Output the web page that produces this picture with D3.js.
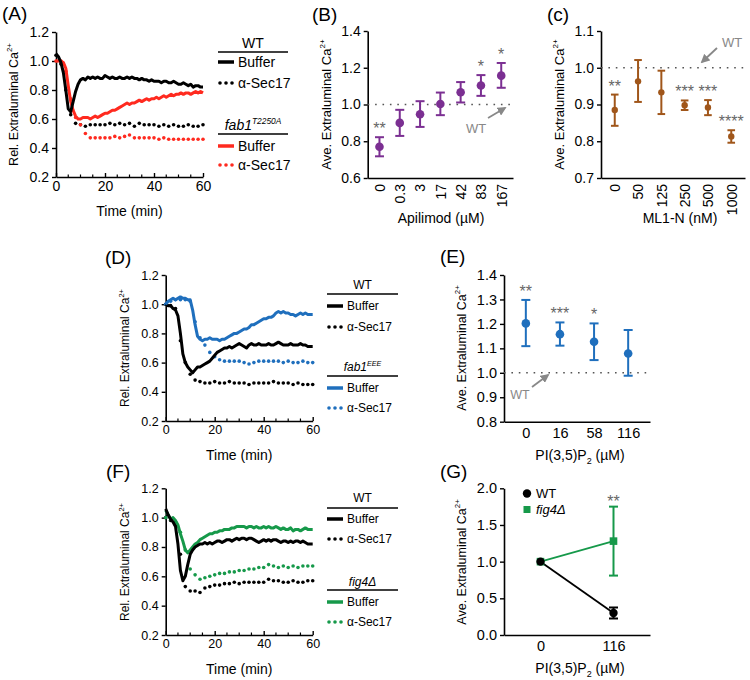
<!DOCTYPE html>
<html>
<head>
<script src="https://d3js.org/d3.v7.min.js"></script>
<style>
  body { margin: 0; background: #fff; }
</style>
</head>
<body>
<script>
// ---------- data ----------
var tMin = d3.range(0, 61);      // buffer traces, 1 min sampling
var tDot = d3.range(0, 61, 2);   // alpha-Sec17 traces, 2 min sampling
var timeXTicks = [0, 20, 40, 60];
var timeXMinor = [5, 10, 15, 25, 30, 35, 45, 50, 55];
var timeYTicks = [0.2, 0.4, 0.6, 0.8, 1.0, 1.2];

// (A) WT vs fab1 T2250A
var aWtBuffer = [1.05,1.03,0.99,0.92,0.80,0.67,0.65,0.72,0.79,0.84,0.87,0.88,0.87,0.89,0.88,0.89,0.88,0.89,0.88,0.88,
  0.90,0.89,0.88,0.89,0.88,0.88,0.89,0.88,0.88,0.89,0.88,0.89,0.88,0.88,0.87,0.88,0.87,0.87,0.86,0.87,
  0.86,0.86,0.86,0.85,0.86,0.86,0.85,0.85,0.86,0.85,0.84,0.84,0.85,0.84,0.83,0.84,0.82,0.83,0.83,0.82,0.82];
var aMutBuffer = [1.00,1.00,1.00,0.99,0.95,0.83,0.72,0.66,0.62,0.60,0.60,0.61,0.61,0.61,0.60,0.61,0.62,0.61,0.62,0.63,
  0.64,0.64,0.65,0.66,0.66,0.67,0.68,0.69,0.70,0.71,0.70,0.71,0.71,0.72,0.73,0.72,0.73,0.74,0.73,0.74,
  0.74,0.75,0.74,0.75,0.76,0.75,0.76,0.77,0.76,0.77,0.77,0.78,0.77,0.78,0.78,0.77,0.78,0.79,0.78,0.79,0.78];
var aWtSec17 = [1.04,0.98,0.80,0.63,0.57,0.56,0.55,0.56,0.56,0.56,0.56,0.57,0.56,0.57,0.56,0.57,
  0.55,0.57,0.56,0.56,0.56,0.55,0.56,0.55,0.56,0.55,0.55,0.56,0.55,0.55,0.56];
var aMutSec17 = [1.00,1.00,0.93,0.74,0.61,0.56,0.50,0.47,0.47,0.47,0.47,0.47,0.48,0.47,0.48,0.49,
  0.47,0.47,0.47,0.47,0.47,0.46,0.47,0.46,0.46,0.46,0.46,0.46,0.46,0.46,0.46];

// (D) WT vs fab1 EEE
var dWtBuffer = [1.00,0.99,0.99,0.97,0.96,0.92,0.80,0.66,0.60,0.57,0.55,0.53,0.55,0.57,0.57,0.58,0.59,0.60,0.61,0.63,
  0.65,0.67,0.68,0.69,0.70,0.70,0.71,0.70,0.71,0.72,0.73,0.72,0.71,0.70,0.72,0.73,0.72,0.72,0.73,0.72,
  0.72,0.72,0.73,0.72,0.72,0.73,0.74,0.73,0.72,0.72,0.72,0.73,0.72,0.72,0.72,0.73,0.72,0.72,0.71,0.71,0.71];
var dMutBuffer = [1.00,1.02,1.03,1.04,1.03,1.04,1.05,1.04,1.04,1.03,1.03,0.96,0.86,0.78,0.76,0.75,0.76,0.76,0.77,0.76,
  0.76,0.76,0.75,0.76,0.76,0.77,0.78,0.79,0.80,0.80,0.81,0.82,0.83,0.83,0.84,0.86,0.86,0.87,0.88,0.89,
  0.90,0.90,0.91,0.91,0.92,0.94,0.95,0.94,0.95,0.94,0.94,0.93,0.93,0.92,0.93,0.94,0.93,0.94,0.93,0.93,0.93];
var dWtSec17 = [1.00,0.99,0.97,0.75,0.60,0.52,0.48,0.47,0.46,0.46,0.47,0.46,0.46,0.47,0.46,0.46,
  0.46,0.45,0.46,0.46,0.46,0.46,0.47,0.46,0.46,0.46,0.45,0.46,0.45,0.45,0.45];
var dMutSec17 = [1.00,1.02,1.03,1.03,1.03,1.02,0.88,0.77,0.72,0.67,0.64,0.62,0.61,0.61,0.61,0.61,
  0.60,0.59,0.60,0.61,0.61,0.61,0.61,0.61,0.60,0.61,0.60,0.60,0.61,0.60,0.60];

// (F) WT vs fig4 delta
var fWtBuffer = [1.06,1.02,0.99,0.97,0.94,0.82,0.64,0.57,0.60,0.68,0.75,0.78,0.80,0.81,0.82,0.82,0.83,0.82,0.83,0.82,
  0.83,0.84,0.84,0.83,0.84,0.85,0.85,0.84,0.85,0.86,0.85,0.86,0.86,0.85,0.86,0.86,0.85,0.84,0.83,0.84,
  0.85,0.84,0.85,0.84,0.85,0.85,0.84,0.83,0.84,0.84,0.83,0.84,0.83,0.84,0.84,0.83,0.84,0.83,0.82,0.82,0.82];
var fMutBuffer = [1.05,1.02,0.99,1.00,0.98,0.95,0.89,0.84,0.78,0.76,0.78,0.80,0.82,0.83,0.85,0.86,0.87,0.88,0.89,0.89,
  0.90,0.90,0.91,0.91,0.92,0.92,0.92,0.93,0.93,0.94,0.94,0.94,0.94,0.93,0.94,0.94,0.93,0.94,0.93,0.93,
  0.94,0.93,0.94,0.93,0.93,0.94,0.93,0.92,0.93,0.92,0.92,0.93,0.91,0.92,0.92,0.91,0.92,0.93,0.92,0.92,0.92];
var fWtSec17 = [1.00,0.98,0.95,0.75,0.53,0.50,0.50,0.49,0.52,0.53,0.54,0.54,0.55,0.55,0.56,0.55,
  0.56,0.56,0.56,0.56,0.56,0.58,0.57,0.57,0.56,0.56,0.57,0.56,0.56,0.57,0.57];
var fMutSec17 = [1.00,0.99,0.97,0.90,0.78,0.65,0.61,0.58,0.59,0.60,0.61,0.62,0.62,0.63,0.63,0.64,
  0.64,0.65,0.65,0.66,0.66,0.68,0.67,0.66,0.67,0.66,0.67,0.66,0.67,0.67,0.67];

// (B) apilimod
var bDose = ["0", "0.3", "3", "17", "42", "83", "167"];
var bMean = [0.77, 0.90, 0.947, 1.003, 1.067, 1.103, 1.157];
var bLow  = [0.718, 0.829, 0.878, 0.942, 1.011, 1.047, 1.091];
var bHigh = [0.822, 0.971, 1.018, 1.065, 1.122, 1.16, 1.226];
var bStars = ["**", "", "", "", "", "*", "*"];

// (c) ML1-N
var cDose = ["0", "50", "125", "250", "500", "1000"];
var cMean = [0.885, 0.963, 0.933, 0.898, 0.892, 0.813];
var cLow  = [0.842, 0.907, 0.874, 0.885, 0.871, 0.796];
var cHigh = [0.927, 1.021, 0.992, 0.911, 0.912, 0.83];
var cStars = ["**", "", "", "***", "***", "****"];

// (E) PI(3,5)P2 on fab1 EEE
var eDose = ["0", "16", "58", "116"];
var eMean = [1.202, 1.158, 1.127, 1.079];
var eLow  = [1.109, 1.111, 1.052, 0.988];
var eHigh = [1.298, 1.206, 1.202, 1.175];
var eStars = ["**", "***", "*", ""];

// (G) PI(3,5)P2, WT vs fig4 delta
var gDose = ["0", "116"];
var gWtMean = [1.0, 0.30];
var gWtErr = [0, 0.075];
var gMutMean = [1.0, 1.28];
var gMutErr = [0, 0.47];
var gStars = ["", "**"];

// ---------- drawing ----------
var FONT = "'Liberation Sans', Arial, Helvetica, sans-serif";
var red = "#ff2a1f", blue = "#1f6fbd", green = "#16994a",
    purple = "#7b2f92", brown = "#a0561a", grey = "#888", starGrey = "#666";

var svg = d3.select("body").append("svg")
    .attr("width", 750).attr("height", 680)
    .attr("font-family", FONT);

function styleAxis(sel, fs) {
  sel.attr("font-family", FONT).attr("font-size", fs);
  sel.select(".domain").attr("stroke", "#000").attr("stroke-width", 1.6);
  sel.selectAll(".tick line").attr("stroke", "#000").attr("stroke-width", 1.4);
  sel.selectAll(".tick text").attr("fill", "#000");
}

function panelLabel(x, y, txt) {
  svg.append("text").attr("x", x).attr("y", y).attr("font-size", 19).text(txt);
}

function yTitle(x, yc, word, fs) {
  var t = svg.append("text")
      .attr("transform", "translate(" + x + "," + yc + ") rotate(-90)")
      .attr("text-anchor", "middle").attr("font-size", fs);
  t.append("tspan").text(word + " Extraluminal Ca");
  t.append("tspan").attr("dy", -fs * 0.45).attr("font-size", fs * 0.62).text("2+");
}

function piTitle(xc, y) {
  var t = svg.append("text").attr("x", xc).attr("y", y)
      .attr("text-anchor", "middle").attr("font-size", 14);
  t.append("tspan").text("PI(3,5)P");
  t.append("tspan").attr("dy", 4).attr("font-size", 9).text("2");
  t.append("tspan").attr("dy", -4).text(" (\u00b5M)");
}

function wtArrow(tx, ty, x1, y1, x2, y2, fs) {
  svg.append("text").attr("x", tx).attr("y", ty).attr("text-anchor", "middle")
      .attr("dominant-baseline", "central").attr("font-size", fs).attr("fill", grey).text("WT");
  svg.append("line").attr("x1", x1).attr("y1", y1).attr("x2", x2).attr("y2", y2)
      .attr("stroke", grey).attr("stroke-width", 1.8).attr("marker-end", "url(#arr)");
}

svg.append("defs").append("marker").attr("id", "arr")
    .attr("viewBox", "0 0 10 10").attr("refX", 8).attr("refY", 5)
    .attr("markerWidth", 5).attr("markerHeight", 5).attr("orient", "auto")
  .append("path").attr("d", "M0,0 L10,5 L0,10 z").attr("fill", grey);

// time-course panel
function timePanel(p) {
  var g = svg.append("g");
  var x = d3.scaleLinear().domain([0, 60]).range([p.left, p.left + 147]);
  var y = d3.scaleLinear().domain([0.2, 1.2]).range([p.bottom, p.top]);

  var ya = g.append("g").attr("transform", "translate(" + p.left + ",0)")
      .call(d3.axisLeft(y).tickValues(timeYTicks).tickFormat(d3.format(".1f"))
        .tickSizeOuter(0).tickSizeInner(4).tickPadding(3));
  styleAxis(ya, p.fs);
  var xa = g.append("g").attr("transform", "translate(0," + p.bottom + ")")
      .call(d3.axisBottom(x).tickValues(timeXTicks)
        .tickSizeOuter(0).tickSizeInner(-4).tickPadding(4));
  styleAxis(xa, p.fs);
  g.selectAll(".minor").data(timeXMinor).enter().append("line")
      .attr("x1", function(d) { return x(d); }).attr("x2", function(d) { return x(d); })
      .attr("y1", p.bottom).attr("y2", p.bottom - 2.5)
      .attr("stroke", "#000").attr("stroke-width", 1.2);

  p.series.forEach(function(s) {
    if (s.dotted) {
      g.append("g").selectAll("circle").data(s.vals).enter().append("circle")
          .attr("cx", function(d, i) { return x(tDot[i]); })
          .attr("cy", function(d) { return y(d); })
          .attr("r", 1.8).attr("fill", s.color);
    } else {
      g.append("path").datum(s.vals)
          .attr("d", d3.line().x(function(d, i) { return x(tMin[i]); }).y(function(d) { return y(d); }))
          .attr("fill", "none").attr("stroke", s.color).attr("stroke-width", 3)
          .attr("stroke-linejoin", "round");
    }
  });

  svg.append("text").attr("x", p.left + 73.5).attr("y", p.bottom + 39)
      .attr("text-anchor", "middle").attr("font-size", 14).text("Time (min)");
}

// legend with two groups
function legend(x0, x1, fs, groups) {
  groups.forEach(function(gr) {
    var t = svg.append("text").attr("x", (x0 + x1) / 2).attr("y", gr.titleY)
        .attr("text-anchor", "middle").attr("font-size", fs);
    t.append("tspan").attr("font-style", gr.italic ? "italic" : "normal").text(gr.title);
    if (gr.sup) {
      t.append("tspan").attr("dy", -fs * 0.45).attr("font-size", fs * 0.6)
          .attr("font-style", "italic").text(gr.sup);
    }
    svg.append("line").attr("x1", x0).attr("x2", x1).attr("y1", gr.lineY).attr("y2", gr.lineY)
        .attr("stroke", "#000").attr("stroke-width", 1.4);
    gr.rows.forEach(function(r) {
      if (r.dotted) {
        [2, 8, 14].forEach(function(dx) {
          svg.append("circle").attr("cx", x0 + dx).attr("cy", r.y).attr("r", 1.8).attr("fill", r.color);
        });
      } else {
        svg.append("line").attr("x1", x0).attr("x2", x0 + 16).attr("y1", r.y).attr("y2", r.y)
            .attr("stroke", r.color).attr("stroke-width", 3.5);
      }
      svg.append("text").attr("x", x0 + 20).attr("y", r.y).attr("dominant-baseline", "central")
          .attr("font-size", fs).text(r.label);
    });
  });
}

// dose panel with mean +/- error
function dosePanel(p) {
  var g = svg.append("g");
  var x = d3.scalePoint().domain(p.cats).range([p.left, p.right]).padding(p.pad);
  var y = d3.scaleLinear().domain(p.ydom).range([p.bottom, p.top]);

  var ya = g.append("g").attr("transform", "translate(" + p.left + ",0)")
      .call(d3.axisLeft(y).tickValues(p.yticks).tickFormat(d3.format(".1f"))
        .tickSizeOuter(0).tickSizeInner(4).tickPadding(3));
  styleAxis(ya, p.fs);
  var xa = g.append("g").attr("transform", "translate(0," + p.bottom + ")")
      .call(d3.axisBottom(x).tickSize(0).tickPadding(6));
  styleAxis(xa, p.fs);
  if (p.rotate) {
    xa.selectAll(".tick text").attr("transform", "rotate(-90)")
        .attr("text-anchor", "end").attr("x", -6).attr("y", 0).attr("dy", "0.35em");
  }

  g.append("line").attr("x1", p.left).attr("x2", p.right)
      .attr("y1", y(1)).attr("y2", y(1))
      .attr("stroke", "#555").attr("stroke-width", 1.6).attr("stroke-dasharray", "1.6,5.8");

  var cap = p.cap;
  p.cats.forEach(function(c, i) {
    var cx = x(c);
    g.append("line").attr("x1", cx).attr("x2", cx).attr("y1", y(p.low[i])).attr("y2", y(p.high[i]))
        .attr("stroke", p.color).attr("stroke-width", 2);
    [p.low[i], p.high[i]].forEach(function(v) {
      g.append("line").attr("x1", cx - cap).attr("x2", cx + cap).attr("y1", y(v)).attr("y2", y(v))
          .attr("stroke", p.color).attr("stroke-width", 2);
    });
    g.append("circle").attr("cx", cx).attr("cy", y(p.mean[i])).attr("r", p.r).attr("fill", p.color);
    if (p.stars[i]) {
      g.append("text").attr("x", cx).attr("y", y(p.high[i]) - 3)
          .attr("text-anchor", "middle").attr("font-size", 16).attr("fill", starGrey)
          .text(p.stars[i]);
    }
  });
}

// ---------- panel A ----------
panelLabel(2, 20, "(A)");
timePanel({ left: 56, top: 32, bottom: 177, fs: 14, series: [
  { vals: aWtSec17, color: "#000", dotted: true },
  { vals: aMutSec17, color: red, dotted: true },
  { vals: aMutBuffer, color: red },
  { vals: aWtBuffer, color: "#000" }
]});
yTitle(18, 104.5, "Rel.", 12.5);
legend(218, 288, 14, [
  { title: "WT", titleY: 48, lineY: 52, rows: [
    { y: 62, color: "#000", label: "Buffer" },
    { y: 83, color: "#000", dotted: true, label: "\u03b1-Sec17" }]},
  { title: "fab1", italic: true, sup: "T2250A", titleY: 130, lineY: 134, rows: [
    { y: 146, color: red, label: "Buffer" },
    { y: 165, color: red, dotted: true, label: "\u03b1-Sec17" }]}
]);

// ---------- panel B ----------
panelLabel(312, 21, "(B)");
dosePanel({ left: 367.7, right: 513, top: 31, bottom: 178, pad: 0.58,
  cats: bDose, mean: bMean, low: bLow, high: bHigh, stars: bStars,
  ydom: [0.6, 1.4], yticks: [0.6, 0.8, 1.0, 1.2, 1.4], color: purple,
  r: 4.3, cap: 4.5, fs: 14, rotate: true });
yTitle(331, 104.5, "Ave.", 13);
svg.append("text").attr("x", 441).attr("y", 223).attr("text-anchor", "middle")
    .attr("font-size", 14).text("Apilimod (\u00b5M)");
wtArrow(476, 128, 488, 118, 505, 108, 13);

// ---------- panel C ----------
panelLabel(547, 21, "(c)");
dosePanel({ left: 601, right: 745, top: 31, bottom: 178, pad: 0.59,
  cats: cDose, mean: cMean, low: cLow, high: cHigh, stars: cStars,
  ydom: [0.7, 1.1], yticks: [0.7, 0.8, 0.9, 1.0, 1.1], color: brown,
  r: 3.2, cap: 3.8, fs: 14, rotate: true });
yTitle(564, 104.5, "Ave.", 13);
svg.append("text").attr("x", 680).attr("y", 223).attr("text-anchor", "middle")
    .attr("font-size", 14).text("ML1-N (nM)");
wtArrow(732, 42, 717, 48, 702, 62, 13);

// ---------- panel D ----------
panelLabel(105, 264, "(D)");
timePanel({ left: 165.7, top: 275, bottom: 421, fs: 12.5, series: [
  { vals: dWtSec17, color: "#000", dotted: true },
  { vals: dMutSec17, color: blue, dotted: true },
  { vals: dWtBuffer, color: "#000" },
  { vals: dMutBuffer, color: blue }
]});
yTitle(129, 348, "Rel.", 12);
legend(327, 398, 12, [
  { title: "WT", titleY: 289, lineY: 294, rows: [
    { y: 306, color: "#000", label: "Buffer" },
    { y: 327, color: "#000", dotted: true, label: "\u03b1-Sec17" }]},
  { title: "fab1", italic: true, sup: "EEE", titleY: 371, lineY: 376, rows: [
    { y: 388, color: blue, label: "Buffer" },
    { y: 408, color: blue, dotted: true, label: "\u03b1-Sec17" }]}
]);

// ---------- panel E ----------
panelLabel(440, 263, "(E)");
dosePanel({ left: 504, right: 650, top: 275, bottom: 421.7, pad: 0.64,
  cats: eDose, mean: eMean, low: eLow, high: eHigh, stars: eStars,
  ydom: [0.8, 1.4], yticks: [0.8, 0.9, 1.0, 1.1, 1.2, 1.3, 1.4], color: blue,
  r: 4.3, cap: 4.5, fs: 14.5, rotate: false });
yTitle(466, 348, "Ave.", 12.5);
piTitle(580, 460);
wtArrow(520, 395, 532, 387, 548, 375, 12.5);

// ---------- panel F ----------
panelLabel(106, 478, "(F)");
timePanel({ left: 165.7, top: 488.3, bottom: 635, fs: 12.5, series: [
  { vals: fWtSec17, color: "#000", dotted: true },
  { vals: fMutSec17, color: green, dotted: true },
  { vals: fMutBuffer, color: green },
  { vals: fWtBuffer, color: "#000" }
]});
yTitle(129, 562, "Rel.", 12);
legend(327, 398, 12, [
  { title: "WT", titleY: 502, lineY: 508, rows: [
    { y: 519, color: "#000", label: "Buffer" },
    { y: 539, color: "#000", dotted: true, label: "\u03b1-Sec17" }]},
  { title: "fig4\u0394", italic: true, titleY: 586, lineY: 590, rows: [
    { y: 602, color: green, label: "Buffer" },
    { y: 622, color: green, dotted: true, label: "\u03b1-Sec17" }]}
]);

// ---------- panel G ----------
panelLabel(440, 478, "(G)");
(function() {
  var g = svg.append("g");
  var x = d3.scalePoint().domain(gDose).range([504, 650]).padding(0.5);
  var y = d3.scaleLinear().domain([0, 2]).range([635, 488.3]);
  var ya = g.append("g").attr("transform", "translate(504,0)")
      .call(d3.axisLeft(y).tickValues([0, 0.5, 1.0, 1.5, 2.0]).tickFormat(d3.format(".1f"))
        .tickSizeOuter(0).tickSizeInner(4).tickPadding(3));
  styleAxis(ya, 14.5);
  var xa = g.append("g").attr("transform", "translate(0,635)")
      .call(d3.axisBottom(x).tickSize(0).tickPadding(6));
  styleAxis(xa, 14.5);

  var line = d3.line().x(function(d, i) { return x(gDose[i]); }).y(function(d) { return y(d); });
  g.append("path").datum(gMutMean).attr("d", line).attr("fill", "none")
      .attr("stroke", green).attr("stroke-width", 1.8);
  g.append("path").datum(gWtMean).attr("d", line).attr("fill", "none")
      .attr("stroke", "#000").attr("stroke-width", 1.8);

  function errBar(mean, err, color) {
    gDose.forEach(function(c, i) {
      if (!err[i]) return;
      var cx = x(c);
      g.append("line").attr("x1", cx).attr("x2", cx)
          .attr("y1", y(mean[i] - err[i])).attr("y2", y(mean[i] + err[i]))
          .attr("stroke", color).attr("stroke-width", 2);
      [mean[i] - err[i], mean[i] + err[i]].forEach(function(v) {
        g.append("line").attr("x1", cx - 4.5).attr("x2", cx + 4.5).attr("y1", y(v)).attr("y2", y(v))
            .attr("stroke", color).attr("stroke-width", 2);
      });
    });
  }
  errBar(gMutMean, gMutErr, green);
  errBar(gWtMean, gWtErr, "#000");
  gDose.forEach(function(c, i) {
    g.append("rect").attr("x", x(c) - 3.8).attr("y", y(gMutMean[i]) - 3.8)
        .attr("width", 7.6).attr("height", 7.6).attr("fill", green);
  });
  gDose.forEach(function(c, i) {
    g.append("circle").attr("cx", x(c)).attr("cy", y(gWtMean[i])).attr("r", 4.2).attr("fill", "#000");
    if (gStars[i]) {
      g.append("text").attr("x", x(c)).attr("y", 507).attr("text-anchor", "middle")
          .attr("font-size", 16).attr("fill", starGrey).text(gStars[i]);
    }
  });

  // legend
  g.append("circle").attr("cx", 527).attr("cy", 493.5).attr("r", 4.2).attr("fill", "#000");
  g.append("text").attr("x", 536).attr("y", 493.5).attr("dominant-baseline", "central")
      .attr("font-size", 13).text("WT");
  g.append("rect").attr("x", 523.5).attr("y", 506).attr("width", 7).attr("height", 7).attr("fill", green);
  g.append("text").attr("x", 536).attr("y", 509.5).attr("dominant-baseline", "central")
      .attr("font-size", 13).attr("font-style", "italic").text("fig4\u0394");
})();
yTitle(466, 562, "Ave.", 12.5);
piTitle(580, 673);
</script>
</body>
</html>
